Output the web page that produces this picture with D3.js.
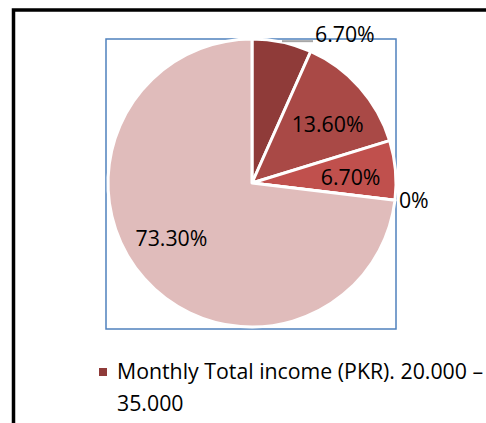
<!DOCTYPE html>
<html lang="en">
<head>
    <title>Monthly Total income pie</title>
    <script src="https://d3js.org/d3.v7.min.js"></script>
    <style>
        body { margin: 0; background: #fff; }
        text { font-family: "Open Sans", sans-serif; fill: #000; font-size: 21.3px; }
    </style>
</head>
<body>
    <script>
        // slice data, clockwise from 12 o'clock
        var labels = ["6.70%", "13.60%", "6.70%", "0%", "73.30%"];
        var values = [6.7, 13.6, 6.7, 0, 73.3];
        var legendText = ["Monthly Total income (PKR). 20.000 \u2013", "35.000"];

        // styling (not data)
        var colors = ["#8f3b39", "#a94946", "#c0504d", "#d9a3a2", "#e0bcbb"];
        var nudge = [[0, 0], [3, 6], [2, 3], [0, 0], [-8, -9]]; // small label shifts

        var width = 486,
            height = 423,
            cx = 252,
            cy = 183,
            radius = 144;

        var svg = d3.select("body").append("svg")
            .attr("width", width)
            .attr("height", height);

        // outer black frame (cut off on the right and bottom)
        svg.append("path")
            .attr("d", "M13.5,430 V10 H490")
            .attr("fill", "none")
            .attr("stroke", "#000")
            .attr("stroke-width", 3.5);

        // plot area box
        svg.append("rect")
            .attr("x", 106)
            .attr("y", 39)
            .attr("width", 290)
            .attr("height", 290)
            .attr("fill", "none")
            .attr("stroke", "#4f81bd")
            .attr("stroke-width", 1.5);

        var pie = d3.pie().sort(null).value(function(d) { return d; });
        var arcs = pie(values);

        var arc = d3.arc().innerRadius(0).outerRadius(radius);
        var labelArc = d3.arc().innerRadius(97).outerRadius(97);
        var edgeArc = d3.arc().innerRadius(radius).outerRadius(radius);

        var g = svg.append("g")
            .attr("transform", "translate(" + cx + "," + cy + ")");

        g.selectAll("path.slice")
            .data(arcs)
            .enter()
            .append("path")
            .attr("class", "slice")
            .attr("d", arc)
            .attr("fill", function(d, i) { return colors[i]; })
            .attr("stroke", "#fff")
            .attr("stroke-width", 3)
            .attr("stroke-linejoin", "round");

        // labels: first and zero slice sit outside, rest inside
        arcs.forEach(function(d, i) {
            if (i == 0) {
                var p = edgeArc.centroid(d);
                g.append("line")
                    .attr("x1", p[0]).attr("y1", p[1] - 1)
                    .attr("x2", p[0] + 31).attr("y2", p[1] - 1)
                    .attr("stroke", "#a6a6a6")
                    .attr("stroke-width", 2);
                g.append("text")
                    .attr("x", p[0] + 33)
                    .attr("y", p[1])
                    .text(labels[i]);
            } else if (values[i] == 0) {
                var q = d3.arc().innerRadius(radius + 4).outerRadius(radius + 4).centroid(d);
                g.append("text")
                    .attr("x", q[0])
                    .attr("y", q[1] + 7.5)
                    .text(labels[i]);
            } else {
                var c = labelArc.centroid(d);
                g.append("text")
                    .attr("x", c[0] + nudge[i][0])
                    .attr("y", c[1] + 7.5 + nudge[i][1])
                    .attr("text-anchor", "middle")
                    .text(labels[i]);
            }
        });

        // legend
        var legend = svg.append("g");
        legend.append("rect")
            .attr("x", 99)
            .attr("y", 368)
            .attr("width", 8)
            .attr("height", 8)
            .attr("fill", colors[0]);
        legend.selectAll("text.leg")
            .data(legendText)
            .enter()
            .append("text")
            .attr("class", "leg")
            .attr("x", 117)
            .attr("y", function(d, i) { return 379 + i * 31.5; })
            .text(function(d) { return d; });
    </script>
</body>
</html>
